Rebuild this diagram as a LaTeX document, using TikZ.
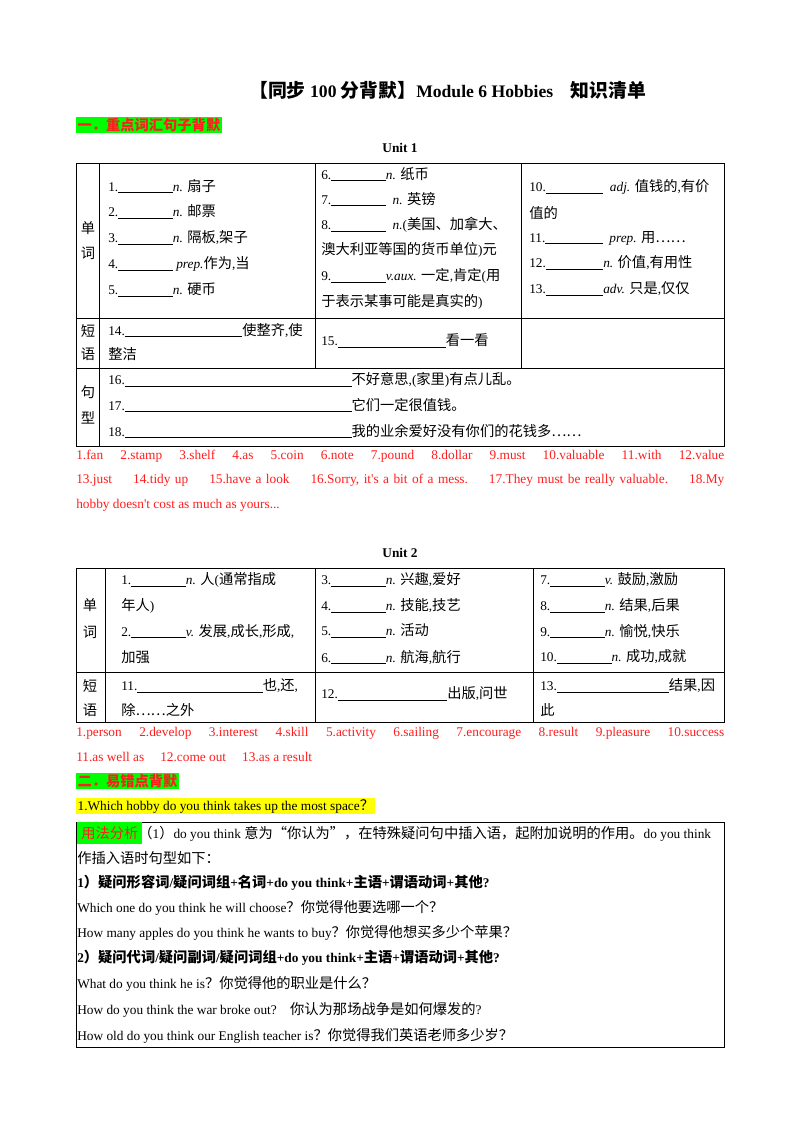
\documentclass[tikz,border=0pt]{standalone}
\usepackage{fontspec}
\setmainfont{Liberation Serif}
\newfontfamily\cjk[Scale=1.07]{Noto Sans CJK SC}
\XeTeXinterchartokenstate=1
\newXeTeXintercharclass\cjkcls
\makeatletter
\def\setcls#1#2{\count@=#1\relax\loop\XeTeXcharclass\count@=\cjkcls\advance\count@ 1\relax\ifnum\count@<#2\repeat}
\setcls{"3000}{"3040}
\setcls{"4E00}{"A000}
\setcls{"FF00}{"FFF0}
\makeatother
\XeTeXcharclass"201C=\cjkcls
\XeTeXcharclass"201D=\cjkcls
\XeTeXcharclass"2026=\cjkcls
\XeTeXinterchartoks 0 \cjkcls = {\begingroup\cjk}
\XeTeXinterchartoks \cjkcls 0 = {\endgroup}
\XeTeXinterchartoks 4095 \cjkcls = {\begingroup\cjk}
\XeTeXinterchartoks \cjkcls 4095 = {\endgroup}
\definecolor{hlg}{RGB}{0,255,0}
\definecolor{hly}{RGB}{255,255,0}
\definecolor{ans}{RGB}{255,30,30}
\newcommand\bl[1]{\rule[-1.5pt]{#1pt}{0.6pt}}
\newcommand\iz[1]{\textit{#1}}
\begin{document}
\begin{tikzpicture}[x=0.75pt,y=-0.75pt,
  t/.style={anchor=west,inner sep=0,font=\fontsize{10}{12}\selectfont},
  a/.style={t,text=ans},
  lab/.style={inner sep=0,font=\fontsize{10}{12}\selectfont},
  grid/.style={line width=0.6pt}]
\useasboundingbox (0,0) rectangle (800,1132);
\fill[white] (0,0) rectangle (800,1132);
% title
\node[anchor=west,inner sep=0,font=\fontsize{13.2}{16}\bfseries\selectfont] (title) at (249,90) {【同步 100 分背默】Module 6 Hobbies\quad 知识清单};
\node[t,fill=hlg,inner sep=1pt,font=\fontsize{10}{12}\bfseries\selectfont,text=ans] (s1) at (76,125) {一．重点词汇句子背默};
\node[lab,font=\fontsize{10}{12}\bfseries\selectfont] (u1) at (400,148) {Unit 1};
% table 1
\draw[grid] (76,163) rectangle (724,446);
\draw[grid] (76,318) -- (724,318) (76,368) -- (724,368);
\draw[grid] (99,163) -- (99,446);
\draw[grid] (315,163) -- (315,368) (521,163) -- (521,368);
\node[lab] (l1) at (88,228) {单}; \node[lab] (l2) at (88,253) {词};
\node[lab] (l3) at (88,331) {短}; \node[lab] (l4) at (88,354) {语};
\node[lab] (l5) at (88,392) {句}; \node[lab] (l6) at (88,418) {型};
\node[t] (w1) at (108,186) {1.\bl{41}\iz{n.} 扇子};
\node[t] (w2) at (108,212) {2.\bl{41}\iz{n.} 邮票};
\node[t] (w3) at (108,238) {3.\bl{41}\iz{n.} 隔板,架子};
\node[t] (w4) at (108,264) {4.\bl{41}\ \iz{prep.}作为,当};
\node[t] (w5) at (108,290) {5.\bl{41}\iz{n.} 硬币};
\node[t] (w6) at (321,174) {6.\bl{41}\iz{n.} 纸币};
\node[t] (w7) at (321,199) {7.\bl{41}\ \ \iz{n.} 英镑};
\node[t] (w8) at (321,225) {8.\bl{41}\ \ \iz{n.}(美国、加拿大、};
\node[t] (w8b) at (321,250) {澳大利亚等国的货币单位)元};
\node[t] (w9) at (321,276) {9.\bl{41}\iz{v.aux.} 一定,肯定(用};
\node[t] (w9b) at (321,302) {于表示某事可能是真实的)};
\node[t] (w10) at (529,187) {10.\bl{43}\ \ \iz{adj.} 值钱的,有价};
\node[t] (w10b) at (529,213) {值的};
\node[t] (w11) at (529,238) {11.\bl{43}\ \ \iz{prep.} 用……};
\node[t] (w12) at (529,263) {12.\bl{43}\iz{n.} 价值,有用性};
\node[t] (w13) at (529,289) {13.\bl{43}\iz{adv.} 只是,仅仅};
\node[t] (p14) at (108,330) {14.\bl{88}使整齐,使};
\node[t] (p14b) at (108,354) {整洁};
\node[t] (p15) at (321,341) {15.\bl{81}看一看};
\node[t] (q16) at (108,380) {16.\bl{170}不好意思,(家里)有点儿乱。};
\node[t] (q17) at (108,405) {17.\bl{170}它们一定很值钱。};
\node[t] (q18) at (108,431) {18.\bl{170}我的业余爱好没有你们的花钱多……};
% answers 1
\node[a,text width=486pt] (a1) at (76,456) {1.fan\hfill 2.stamp\hfill 3.shelf\hfill 4.as\hfill 5.coin\hfill 6.note\hfill 7.pound\hfill 8.dollar\hfill 9.must\hfill 10.valuable\hfill 11.with\hfill 12.value};
\node[a,text width=486pt] (a2) at (76,480) {13.just\hfill 14.tidy up\hfill 15.have a look\hfill 16.Sorry, it\textquotesingle s a bit of a mess.\hfill 17.They must be really valuable.\hfill 18.My};
\node[a] (a3) at (76,505) {hobby doesn\textquotesingle t cost as much as yours...};
% unit 2
\node[lab,font=\fontsize{10}{12}\bfseries\selectfont] (u2) at (400,553) {Unit 2};
\draw[grid] (76,568) rectangle (724,722);
\draw[grid] (76,672) -- (724,672);
\draw[grid] (105,568) -- (105,722) (315,568) -- (315,722) (533,568) -- (533,722);
\node[lab] (m1) at (90,605) {单}; \node[lab] (m2) at (90,632) {词};
\node[lab] (m3) at (90,686) {短}; \node[lab] (m4) at (90,710) {语};
\node[t] (v1) at (121,580) {1.\bl{41}\iz{n.} 人(通常指成};
\node[t] (v1b) at (121,606) {年人)};
\node[t] (v2) at (121,631) {2.\bl{41}\iz{v.} 发展,成长,形成,};
\node[t] (v2b) at (121,657) {加强};
\node[t] (v3) at (321,580) {3.\bl{41}\iz{n.} 兴趣,爱好};
\node[t] (v4) at (321,606) {4.\bl{41}\iz{n.} 技能,技艺};
\node[t] (v5) at (321,631) {5.\bl{41}\iz{n.} 活动};
\node[t] (v6) at (321,657) {6.\bl{41}\iz{n.} 航海,航行};
\node[t] (v7) at (540,580) {7.\bl{41}\iz{v.} 鼓励,激励};
\node[t] (v8) at (540,606) {8.\bl{41}\iz{n.} 结果,后果};
\node[t] (v9) at (540,631) {9.\bl{41}\iz{n.} 愉悦,快乐};
\node[t] (v10) at (540,657) {10.\bl{41}\iz{n.} 成功,成就};
\node[t] (r11) at (121,686) {11.\bl{94}也,还,};
\node[t] (r11b) at (121,710) {除……之外};
\node[t] (r12) at (321,694) {12.\bl{82}出版,问世};
\node[t] (r13) at (540,686) {13.\bl{84}结果,因};
\node[t] (r13b) at (540,710) {此};
\node[a,text width=486pt] (b1) at (76,733) {1.person\hfill 2.develop\hfill 3.interest\hfill 4.skill\hfill 5.activity\hfill 6.sailing\hfill 7.encourage\hfill 8.result\hfill 9.pleasure\hfill 10.success};
\node[a] (b2) at (76,757) {11.as well as\hspace{12pt}12.come out\hspace{12pt}13.as a result};
% section 2
\node[t,fill=hlg,inner sep=1pt,font=\fontsize{10}{12}\bfseries\selectfont,text=ans] (s2) at (76,781) {二．易错点背默};
\node[t,fill=hly,inner sep=1pt] (qq) at (76,806) {1.Which hobby do you think takes up the most space？};
\draw[grid] (76,822) rectangle (724,1047);
\node[t] (e1) at (77,833) {\colorbox{hlg}{\textcolor{ans}{用法分析}}\hspace{-3pt}（1）do you think 意为“你认为”，在特殊疑问句中插入语，起附加说明的作用。do you think};
\node[t] (e2) at (77,858) {作插入语时句型如下：};
\node[t,font=\fontsize{10}{12}\bfseries\selectfont] (e3) at (77,883) {1）疑问形容词/疑问词组+名词+do you think+主语+谓语动词+其他?};
\node[t] (e4) at (77,908) {Which one do you think he will choose？你觉得他要选哪一个？};
\node[t] (e5) at (77,933) {How many apples do you think he wants to buy？你觉得他想买多少个苹果？};
\node[t,font=\fontsize{10}{12}\bfseries\selectfont] (e6) at (77,958) {2）疑问代词/疑问副词/疑问词组+do you think+主语+谓语动词+其他?};
\node[t] (e7) at (77,984) {What do you think he is？你觉得他的职业是什么？};
\node[t] (e8) at (77,1010) {How do you think the war broke out?\quad 你认为那场战争是如何爆发的?};
\node[t] (e9) at (77,1036) {How old do you think our English teacher is？你觉得我们英语老师多少岁？};
\end{tikzpicture}
\end{document}
